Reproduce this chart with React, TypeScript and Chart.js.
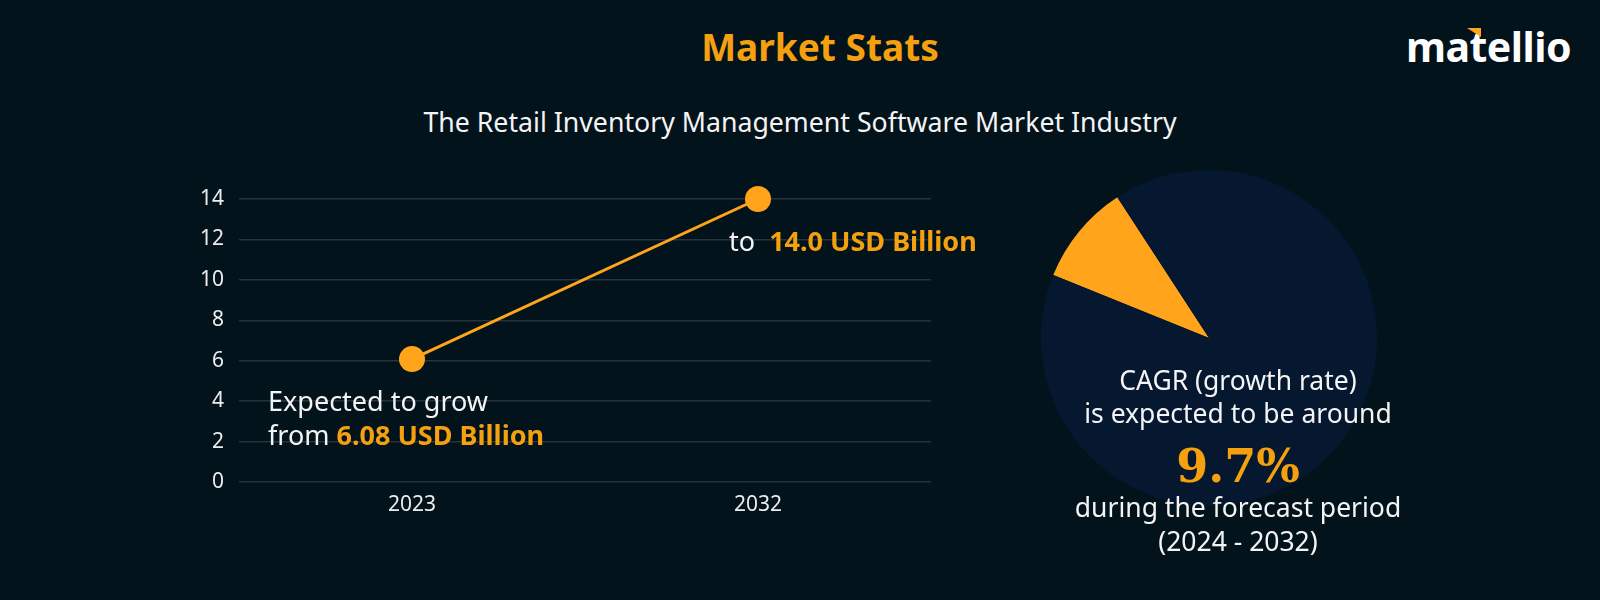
import React, { useEffect, useRef } from "react";
import { Chart, registerables } from "chart.js";

Chart.register(...registerables);

const years = ["2023", "2032"];
const marketSize = [6.08, 14.0];
const yMin = 0;
const yMax = 14;
const yStep = 2;
const cagrLabels = ["CAGR", "Rest"];
const cagrShare = [9.7, 90.3];

const BG = "#03131c";
const ORANGE = "#FFA41B";
const TEXT_ORANGE = "#F5A00F";
const NAVY = "#061830";
const GRID = "#27333c";
const FONT = "'Noto Sans', sans-serif";

function LineChart() {
  const ref = useRef<HTMLCanvasElement>(null);
  useEffect(() => {
    const chart = new Chart(ref.current!, {
      type: "line",
      data: {
        labels: years,
        datasets: [
          {
            data: marketSize,
            borderColor: ORANGE,
            backgroundColor: ORANGE,
            borderWidth: 3,
            pointRadius: 13,
            pointHoverRadius: 13,
            pointBackgroundColor: ORANGE,
            pointBorderWidth: 0,
            clip: false as any,
          },
        ],
      },
      options: {
        animation: false,
        responsive: false,
        maintainAspectRatio: false,
        layout: { padding: { left: 29, right: 19, top: 29, bottom: 0 } },
        plugins: { legend: { display: false }, tooltip: { enabled: false } },
        scales: {
          x: {
            offset: true,
            grid: { display: false, drawTicks: false },
            border: { display: false },
            ticks: { color: "#ececec", font: { family: FONT, size: 21 }, padding: 10 },
            afterFit: (s: any) => {
              s.height = 38;
            },
          },
          y: {
            min: yMin,
            max: yMax,
            grid: { color: GRID, lineWidth: 1.5, drawTicks: false },
            border: { display: false },
            ticks: { stepSize: yStep, color: "#ececec", font: { family: FONT, size: 21 }, padding: 15 },
            afterFit: (s: any) => {
              s.width = 60;
            },
          },
        },
      },
    });
    return () => chart.destroy();
  }, []);
  return (
    <canvas
      ref={ref}
      width={800}
      height={350}
      style={{ position: "absolute", left: 150, top: 170, width: 800, height: 350 }}
    />
  );
}

function PieChart() {
  const ref = useRef<HTMLCanvasElement>(null);
  useEffect(() => {
    const chart = new Chart(ref.current!, {
      type: "pie",
      data: {
        labels: cagrLabels,
        datasets: [
          {
            data: cagrShare,
            backgroundColor: [ORANGE, NAVY],
            borderWidth: 0,
          },
        ],
      },
      options: {
        animation: false,
        responsive: false,
        maintainAspectRatio: false,
        rotation: -68,
        layout: { padding: 12 },
        plugins: { legend: { display: false }, tooltip: { enabled: false } },
      },
    });
    return () => chart.destroy();
  }, []);
  return (
    <canvas
      ref={ref}
      width={360}
      height={360}
      style={{ position: "absolute", left: 1029, top: 158, width: 360, height: 360 }}
    />
  );
}

const abs = (left: number, top: number, extra: React.CSSProperties = {}): React.CSSProperties => ({
  position: "absolute",
  left,
  top,
  whiteSpace: "nowrap",
  ...extra,
});

export default function App() {
  const pieLine: React.CSSProperties = {
    position: "absolute",
    left: 1038,
    width: 400,
    textAlign: "center",
    color: "#f4f4f4",
    fontSize: 26.5,
    lineHeight: "32px",
    whiteSpace: "nowrap",
  };
  return (
    <div
      style={{
        position: "fixed",
        left: 0,
        top: 0,
        width: 1600,
        height: 600,
        background: BG,
        fontFamily: FONT,
        overflow: "hidden",
      }}
    >
      <div
        style={abs(620, 23, {
          width: 400,
          textAlign: "center",
          color: TEXT_ORANGE,
          fontWeight: 700,
          fontSize: 37,
          lineHeight: "48px",
        })}
      >
        Market Stats
      </div>
      <div style={abs(1406, 20, { color: "#ffffff", fontWeight: 700, fontSize: 41, lineHeight: "52px", letterSpacing: -0.5 })}>
        matellio
      </div>
      <div
        style={{
          position: "absolute",
          left: 1467,
          top: 28,
          width: 14,
          height: 9,
          background: ORANGE,
          clipPath: "polygon(0 0, 100% 0, 100% 100%)",
        }}
      />
      <div
        style={abs(350, 105, {
          width: 900,
          textAlign: "center",
          color: "#f4f4f4",
          fontSize: 26.7,
          lineHeight: "34px",
        })}
      >
        The Retail Inventory Management Software Market Industry
      </div>

      <LineChart />
      <PieChart />

      <div style={abs(268, 384, { color: "#f4f4f4", fontSize: 27, lineHeight: "34px" })}>
        Expected to grow
        <br />
        from <span style={{ color: TEXT_ORANGE, fontWeight: 700 }}>6.08 USD Billion</span>
      </div>
      <div style={abs(729, 224, { color: "#f4f4f4", fontSize: 27, lineHeight: "34px" })}>
        to&nbsp;&nbsp;<span style={{ color: TEXT_ORANGE, fontWeight: 700 }}>14.0 USD Billion</span>
      </div>

      <div style={{ ...pieLine, top: 364 }}>CAGR (growth rate)</div>
      <div style={{ ...pieLine, top: 397 }}>is expected to be around</div>
      <div
        style={{
          ...pieLine,
          top: 438,
          fontFamily: "'DejaVu Serif', serif",
          fontWeight: 700,
          fontSize: 46,
          lineHeight: "56px",
          color: TEXT_ORANGE,
        }}
      >
        9.7%
      </div>
      <div style={{ ...pieLine, top: 491 }}>during the forecast period</div>
      <div style={{ ...pieLine, top: 525 }}>(2024 - 2032)</div>
    </div>
  );
}
